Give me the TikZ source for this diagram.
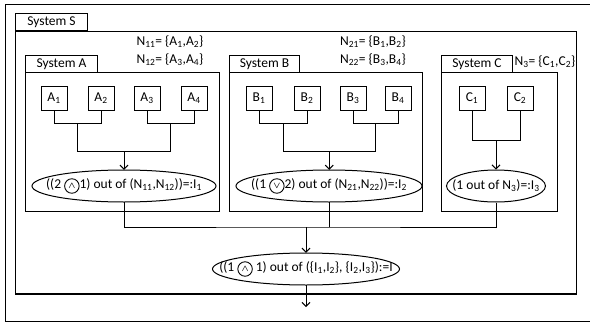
\documentclass[tikz,border=0pt]{standalone}
\usepackage{fontspec}
\setmainfont{Carlito}
\usepackage{amsmath}
\usetikzlibrary{shapes.geometric,arrows.meta,calc}
\newcommand{\opcirc}[1]{\tikz[baseline=(oc.base)]\node[circle,draw,line width=0.9pt,inner sep=0pt,minimum size=14.5pt](oc){\small$\boldsymbol{#1}$};}
\begin{document}
\begin{tikzpicture}[x=1pt,y=-1pt,line width=1pt,
  font=\fontsize{13.5}{15}\selectfont,
  comp/.style={draw,minimum width=26pt,minimum height=24pt,inner sep=0pt},
  tab/.style={draw,anchor=north west,inner sep=0pt,minimum height=17pt},
  oval/.style={draw,ellipse,inner sep=0pt,minimum height=32pt},
  arr/.style={-{Straight Barb[length=4pt,width=8pt]}},
  lbl/.style={inner sep=0pt}]
\useasboundingbox (0,0) rectangle (590,327);
% outer frame (cut at right)
\draw (592,4) -- (5,4) -- (5,321) -- (592,321);
% System S
\draw (15,31) rectangle (576,294);
\draw[line width=1.6pt] (15,294) -- (576,294);
\node[tab,minimum width=72pt] (tabS) at (15,13) {System S};
% labels
\node[lbl] (n11) at (170,42) {N\textsubscript{11}= \{A\textsubscript{1},A\textsubscript{2}\}};
\node[lbl] (n12) at (170,60) {N\textsubscript{12}= \{A\textsubscript{3},A\textsubscript{4}\}};
\node[lbl] (n21) at (373,42) {N\textsubscript{21}= \{B\textsubscript{1},B\textsubscript{2}\}};
\node[lbl] (n22) at (373,60) {N\textsubscript{22}= \{B\textsubscript{3},B\textsubscript{4}\}};
\node[lbl] (n3) at (545,62) {N\textsubscript{3}= \{C\textsubscript{1},C\textsubscript{2}\}};
% System boxes
\draw (25,72) rectangle (219,211);
\node[tab,minimum width=72pt] (tabA) at (25,55) {System A};
\draw (229,72) rectangle (422,211);
\node[tab,minimum width=70pt] (tabB) at (229,55) {System B};
\draw (441,72) rectangle (557,211);
\node[tab,minimum width=71pt] (tabC) at (441,55) {System C};
% components
\node[comp] (a1) at (54,98) {A\textsubscript{1}};
\node[comp] (a2) at (101,98) {A\textsubscript{2}};
\node[comp] (a3) at (147,98) {A\textsubscript{3}};
\node[comp] (a4) at (194,98) {A\textsubscript{4}};
\node[comp] (b1) at (259,98) {B\textsubscript{1}};
\node[comp] (b2) at (307,98) {B\textsubscript{2}};
\node[comp] (b3) at (353,98) {B\textsubscript{3}};
\node[comp] (b4) at (398,98) {B\textsubscript{4}};
\node[comp] (c1) at (472,98) {C\textsubscript{1}};
\node[comp] (c2) at (520,98) {C\textsubscript{2}};
% ellipses
\node[oval,minimum width=184pt] (ea) at (124,186) {\makebox[0pt]{((2 \opcirc{\wedge}1) out of (N\textsubscript{11},N\textsubscript{12}))=:I\textsubscript{1}}};
\node[oval,minimum width=186pt] (eb) at (329,186) {\makebox[0pt]{((1 \opcirc{\vee}2) out of (N\textsubscript{21},N\textsubscript{22}))=:I\textsubscript{2}}};
\node[oval,minimum width=99pt] (ec) at (496,186) {\makebox[0pt]{(1 out of N\textsubscript{3})=:I\textsubscript{3}}};
\node[oval,minimum width=187pt] (ef) at (306,269) {\makebox[0pt]{((1 \opcirc{\wedge} 1) out of (\{I\textsubscript{1},I\textsubscript{2}\}, \{I\textsubscript{2},I\textsubscript{3}\}):=I}};
% A tree
\coordinate (ja12) at ($(a1.south)!0.5!(a2.south)+(0,13)$);
\coordinate (ja34) at ($(a3.south)!0.5!(a4.south)+(0,13)$);
\coordinate (ja) at ($(ja12)!0.5!(ja34)+(0,28)$);
\draw (a1.south) |- (ja12) -| (a2.south);
\draw (a3.south) |- (ja34) -| (a4.south);
\draw (ja12) |- (ja) -| (ja34);
\draw[arr] (ja) -- (ja |- ea.north);
% B tree
\coordinate (jb12) at ($(b1.south)!0.5!(b2.south)+(0,13)$);
\coordinate (jb34) at ($(b3.south)!0.5!(b4.south)+(0,13)$);
\coordinate (jb) at ($(jb12)!0.5!(jb34)+(0,28)$);
\draw (b1.south) |- (jb12) -| (b2.south);
\draw (b3.south) |- (jb34) -| (b4.south);
\draw (jb12) |- (jb) -| (jb34);
\draw[arr] (jb) -- (jb |- eb.north);
% C tree
\coordinate (jc) at ($(c1.south)!0.5!(c2.south)+(0,30)$);
\draw (c1.south) |- (jc) -| (c2.south);
\draw[arr] (jc) -- (jc |- ec.north);
% bus
\coordinate (bus) at (306,227);
\draw (ea.south) |- (bus) -| (ec.south);
\draw (eb.south) -- (eb.south |- bus);
\draw[arr] (bus) -- (ef.north);
\coordinate (out) at (306,307);
\draw[arr] (ef.south) -- (out);
\end{tikzpicture}
\end{document}
